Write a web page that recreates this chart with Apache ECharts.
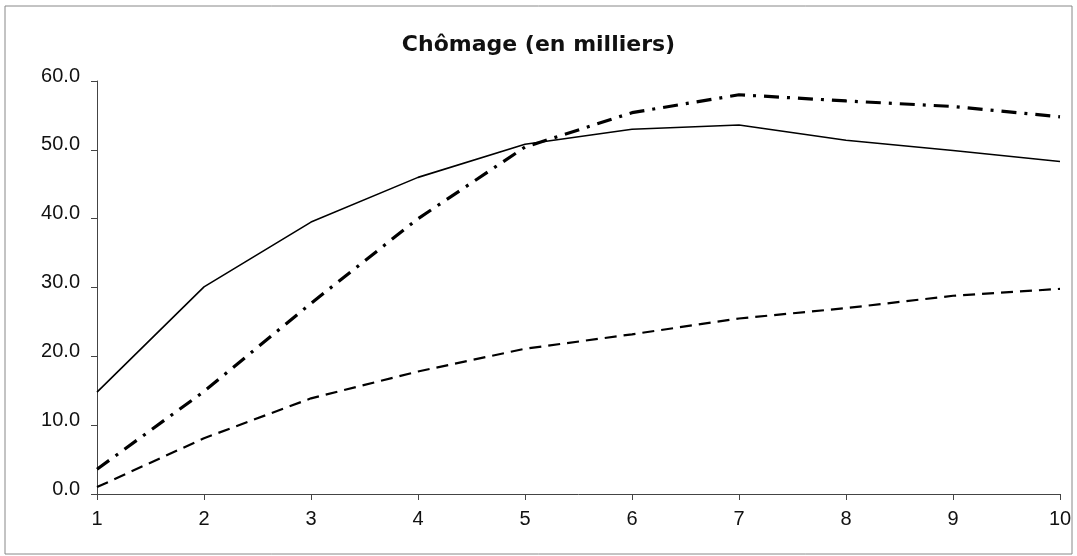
<!DOCTYPE html>
<html>
<head>
<meta charset="utf-8">
<script src="https://cdn.jsdelivr.net/npm/echarts@6/dist/echarts.min.js"></script>
<style>
  html, body { margin: 0; padding: 0; background: #fff; }
  #chart { width: 1077px; height: 556px; }
</style>
</head>
<body>
<div id="chart"></div>
<script>
// Periods on the horizontal axis
const periods = ['1', '2', '3', '4', '5', '6', '7', '8', '9', '10'];
// Unemployment series, in thousands
const seriesSolid   = [14.8, 30.1, 39.5, 46.0, 50.8, 53.0, 53.6, 51.4, 49.9, 48.3];
const seriesDashDot = [3.6, 14.9, 27.7, 40.0, 50.4, 55.4, 58.0, 57.1, 56.3, 54.8];
const seriesDashed  = [1.0, 8.1, 13.9, 17.8, 21.1, 23.2, 25.5, 27.0, 28.8, 29.8];
// Value axis bounds
const yMin = 0, yMax = 60, yStep = 10;

const chart = echarts.init(document.getElementById('chart'));
const font = '"Liberation Sans", Arial, sans-serif';

chart.setOption({
  animation: false,
  backgroundColor: '#fff',
  title: {
    text: 'Chômage (en milliers)',
    left: 'center',
    top: 29,
    textStyle: { fontFamily: '"DejaVu Sans", sans-serif', fontSize: 22, fontWeight: 'bold', color: '#111' }
  },
  graphic: [{
    type: 'rect',
    shape: { x: 5, y: 6, width: 1067, height: 548 },
    style: { fill: null, stroke: '#888', lineWidth: 1 },
    silent: true
  }],
  grid: { left: 97, right: 17, top: 81, bottom: 62 },
  xAxis: {
    type: 'category',
    data: periods,
    boundaryGap: false,
    axisLine: { lineStyle: { color: '#444', width: 1 } },
    axisTick: { show: true, length: 6, inside: false, lineStyle: { color: '#444' } },
    axisLabel: { fontFamily: font, fontSize: 20, color: '#111', margin: 15 },
    splitLine: { show: false }
  },
  yAxis: {
    type: 'value',
    min: yMin, max: yMax, interval: yStep,
    axisLine: { show: true, lineStyle: { color: '#444', width: 1 } },
    axisTick: { show: true, length: 6, lineStyle: { color: '#444' } },
    axisLabel: {
      fontFamily: font, fontSize: 20, color: '#111', margin: 17,
      verticalAlign: 'bottom', lineHeight: 10,
      formatter: v => v.toFixed(1)
    },
    splitLine: { show: false }
  },
  series: [
    {
      type: 'line', data: seriesSolid, symbol: 'none',
      lineStyle: { color: '#000', width: 1.6, type: 'solid' }
    },
    {
      type: 'line', data: seriesDashDot, symbol: 'none',
      lineStyle: { color: '#000', width: 3.2, type: [15, 8, 3, 8] }
    },
    {
      type: 'line', data: seriesDashed, symbol: 'none',
      lineStyle: { color: '#000', width: 2.2, type: [12, 7] }
    }
  ]
});
</script>
</body>
</html>
